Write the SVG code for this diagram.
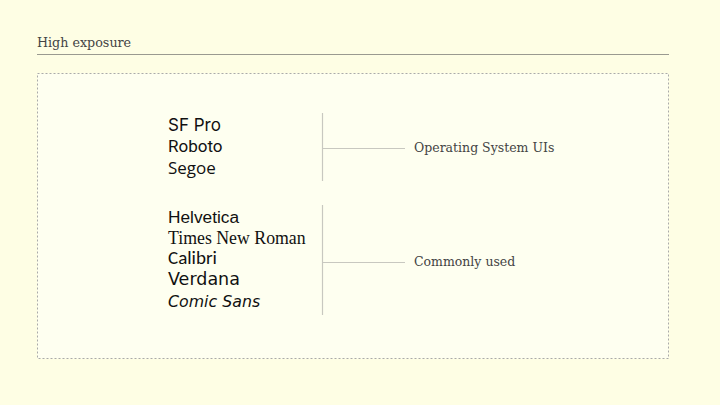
<svg xmlns="http://www.w3.org/2000/svg" width="720" height="405" viewBox="0 0 720 405">
<style>
.slab{font-family:"DejaVu Serif","Liberation Serif",serif;fill:#444;font-size:12.5px}
.f{font-size:17px;fill:#111}
.ln{stroke:#c8c8c0;stroke-width:1.2;fill:none}
</style>
<rect width="720" height="405" fill="#fefee4"/>
<g id="header">
<text class="slab" x="37" y="47" style="font-size:12.7px">High exposure</text>
<line x1="37" y1="54.5" x2="669" y2="54.5" stroke="#9a9a90" stroke-width="1"/>
</g>
<g id="frame">
<rect x="37.5" y="73.5" width="631" height="285" fill="#fefff0" stroke="#aaa" stroke-width="1" stroke-dasharray="2,2"/>
</g>
<g id="os-fonts">
<text class="f" x="168" y="131" font-family="Inter,'Noto Sans',sans-serif">SF Pro</text>
<text class="f" x="168" y="152" font-family="Roboto,sans-serif">Roboto</text>
<text class="f" x="168" y="174" font-family="'Segoe UI','Open Sans',sans-serif">Segoe</text>
</g>
<g id="common-fonts">
<text class="f" x="168" y="223" font-family="'Liberation Sans',Arial,sans-serif" style="font-size:17.3px">Helvetica</text>
<text class="f" x="168" y="244" font-family="'Liberation Serif','Times New Roman',serif" style="font-size:17.8px">Times New Roman</text>
<text class="f" x="168" y="264" font-family="Calibri,'Open Sans',sans-serif" style="font-size:19px">Calibri</text>
<text class="f" x="168" y="285" font-family="Verdana,'DejaVu Sans',sans-serif" style="font-size:17.5px">Verdana</text>
<text class="f" x="168" y="307" font-family="'Comic Sans MS','DejaVu Sans',sans-serif" style="font-size:15.8px;font-style:oblique">Comic Sans</text>
</g>
<g id="label-os">
<text class="slab" x="414" y="152">Operating System UIs</text>
</g>
<g id="label-common">
<text class="slab" x="414" y="266">Commonly used</text>
</g>
<g id="connectors">
<line class="ln" x1="322.5" y1="113" x2="322.5" y2="181"/>
<line class="ln" x1="322" y1="148.5" x2="405" y2="148.5"/>
<line class="ln" x1="322.5" y1="205" x2="322.5" y2="315"/>
<line class="ln" x1="322" y1="262.5" x2="405" y2="262.5"/>
</g>
</svg>
